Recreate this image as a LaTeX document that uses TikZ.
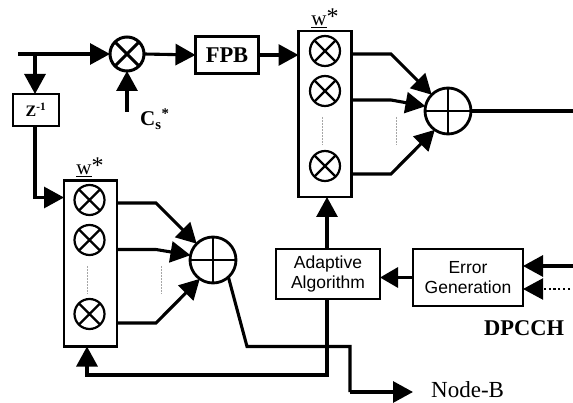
\documentclass[tikz,border=0pt]{standalone}
\usepackage{fontspec}
\setmainfont{Liberation Serif}
\setsansfont{Liberation Sans}
\usetikzlibrary{arrows.meta,calc}
\tikzset{
  wire/.style={line width=3.1pt,line join=miter},
  arr/.style={wire,-{Triangle[length=20pt,width=21pt,sep=0pt]}},
  arrs/.style={wire,-{Triangle[length=18pt,width=20pt,sep=0pt]}},
  mult/.style 2 args={circle,draw,line width=#2,minimum size=#1,inner sep=0pt,outer sep=0pt,
    path picture={\draw[line width=#2]
      (path picture bounding box.north west)--(path picture bounding box.south east)
      (path picture bounding box.north east)--(path picture bounding box.south west);}},
  adder/.style={circle,draw,line width=2.8pt,minimum size=46pt,inner sep=0pt,outer sep=0pt,
    path picture={\draw[line width=2.8pt]
      (path picture bounding box.north)--(path picture bounding box.south)
      (path picture bounding box.east)--(path picture bounding box.west);}},
  bank/.style={draw,line width=2.6pt,minimum width=53pt,minimum height=166pt,inner sep=0pt,outer sep=0pt},
  sbox/.style={draw,line width=2pt,inner sep=0pt,outer sep=0pt,align=center,
    font=\sffamily\fontsize{17.5}{20.5}\selectfont},
  hair/.style={gray!70,densely dotted,line width=0.5pt},
  bold/.style={font=\bfseries\fontsize{#1}{#1}\selectfont,inner sep=0pt},
  wlab/.style={font=\fontsize{21}{21}\selectfont,inner sep=0pt},
}
\newcommand{\wstar}{\underline{w}\raisebox{1pt}{\fontsize{24}{24}\selectfont *}}
\begin{document}
\begin{tikzpicture}[x=1pt,y=-1pt]
\useasboundingbox (0,0) rectangle (573,403);
% nodes
\node[mult={34pt}{3pt}] (m) at (127,54) {};
\node[draw,line width=2.8pt,minimum width=63pt,minimum height=37pt,inner sep=0pt,outer sep=0pt,bold=22.5] (fpb) at (227,55) {FPB};
\node[draw,line width=2pt,minimum width=46pt,minimum height=32pt,inner sep=0pt,outer sep=0pt,bold=16] (z) at (36,110) {Z\textsuperscript{-1}};
\node[bank] (bt) at (325,114) {};
\node[mult={30pt}{2.2pt}] (t1) at (325,51) {};
\node[mult={30pt}{2.2pt}] (t2) at (325,91) {};
\node[mult={30pt}{2.2pt}] (t3) at (325,166) {};
\node[adder] (at) at (448,111) {};
\node[bank] (bl) at (90.5,263.5) {};
\node[mult={30pt}{2.2pt}] (l1) at (89.5,200) {};
\node[mult={30pt}{2.2pt}] (l2) at (89.5,240) {};
\node[mult={30pt}{2.2pt}] (l3) at (89.5,314) {};
\node[adder] (al) at (213,260) {};
\node[sbox,minimum width=104pt,minimum height=50pt] (alg) at (328,274) {\raisebox{-1.5pt}{Adaptive}\\\raisebox{-1.5pt}{Algorithm}};
\node[sbox,minimum width=110pt,minimum height=57pt] (err) at (468,277.5) {Error\\Generation};
% labels
\node[bold=21,anchor=base west] (cs) at (140,126) {C\textsubscript{s}\textsuperscript{*}};
\node[wlab] (wt) at (325,18) {\wstar};
\node[wlab] (wl) at (90,167) {\wstar};
\node[bold=22.5,anchor=base west] (dp) at (484,336) {DPCCH};
\node[font=\fontsize{23}{23}\selectfont,inner sep=0pt,anchor=base west] (nb) at (431,397) {Node-B};
% free ends
\coordinate (in) at (18,54);
\coordinate (j) at (35,54);
\coordinate (csin) at (127,112);
\coordinate (out) at (573,111);
\coordinate (e1) at (573,266);
\coordinate (e2) at (570,289);
\coordinate (nbtip) at (413,392);
% top path
\draw[arr] (in) -- (m.west);
\draw[arr] (m.east) -- (fpb.west);
\draw[arr] (fpb.east) -- (bt.west |- fpb.east);
\draw[arr] (csin) -- (m.south);
\draw[arr] (j) -- (z.north -| j);
\draw[arr] (z.south -| j) -- (35,197.5) -- (bl.west |- 0,197.5);
% top bank to adder
\draw[arr] (bt.east |- 0,54) -- (391,54) -- (at.135);
\draw[arr] (bt.east |- 0,100) -- (391,100) -- (at.168);
\draw[arr] (bt.east |- 0,174) -- (391,174) -- (at.-125);
\draw[wire] (at.east) -- (out);
% left bank to adder
\draw[arr] (bl.east |- 0,203) -- (156,203) -- (al.135);
\draw[arr] (bl.east |- 0,249.5) -- (156,249.5) -- (al.168);
\draw[arr] (bl.east |- 0,323) -- (156,323) -- (al.-125);
% dotted hints
\draw[hair] (322,117) -- (322,145);
\draw[hair] (396,117) -- (396,145);
\draw[hair] (87.5,266) -- (87.5,294);
\draw[hair] (161.5,266) -- (161.5,294);
% adaptive
\draw[arr] (alg.north -| 327,0) -- (bt.south -| 327,0);
\draw[arr] (alg.south -| 327,0) -- (327,375) -- (87,375) -- (bl.south -| 87,0);
\draw[arrs] (err.west) -- (alg.east |- err.west);
\draw[arr] (e1) -- (err.east |- e1);
\draw[arr,line width=2.2pt,dash pattern=on 2.2pt off 2.6pt] (e2) -- (err.east |- e2);
% node-b
\draw[wire] (al.-48) -- (247,346.5) -- (350,346.5) -- (350,392);
\draw[arr] (350,392) -- (nbtip);
\end{tikzpicture}
\end{document}
